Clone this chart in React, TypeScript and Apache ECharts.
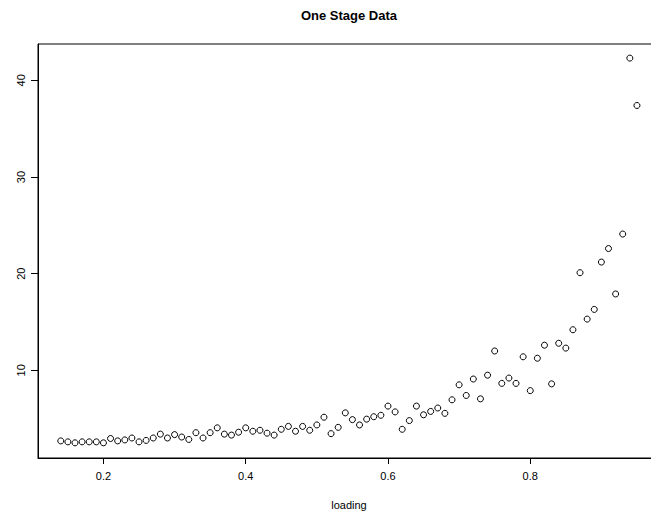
import React, { useEffect, useRef } from "react";
import * as echarts from "echarts";

const loading: number[] = [
  0.14, 0.15, 0.16, 0.17, 0.18, 0.19, 0.2, 0.21, 0.22, 0.23, 0.24, 0.25, 0.26, 0.27,
  0.28, 0.29, 0.3, 0.31, 0.32, 0.33, 0.34, 0.35, 0.36, 0.37, 0.38, 0.39, 0.4, 0.41,
  0.42, 0.43, 0.44, 0.45, 0.46, 0.47, 0.48, 0.49, 0.5, 0.51, 0.52, 0.53, 0.54, 0.55,
  0.56, 0.57, 0.58, 0.59, 0.6, 0.61, 0.62, 0.63, 0.64, 0.65, 0.66, 0.67, 0.68, 0.69,
  0.7, 0.71, 0.72, 0.73, 0.74, 0.75, 0.76, 0.77, 0.78, 0.79, 0.8, 0.81, 0.82, 0.83,
  0.84, 0.85, 0.86, 0.87, 0.88, 0.89, 0.9, 0.91, 0.92, 0.93, 0.94, 0.95,
];

const response: number[] = [
  2.7, 2.6, 2.5, 2.6, 2.6, 2.6, 2.5, 2.95, 2.7, 2.8, 3.0, 2.6, 2.75, 3.0,
  3.4, 3.0, 3.35, 3.1, 2.85, 3.55, 3.0, 3.55, 4.05, 3.4, 3.3, 3.6, 4.05, 3.7,
  3.8, 3.5, 3.3, 3.9, 4.2, 3.7, 4.2, 3.8, 4.35, 5.15, 3.45, 4.1, 5.6, 4.9,
  4.35, 4.95, 5.2, 5.35, 6.3, 5.7, 3.9, 4.8, 6.3, 5.4, 5.75, 6.1, 5.55, 6.95,
  8.5, 7.4, 9.1, 7.05, 9.5, 12.0, 8.65, 9.2, 8.65, 11.4, 7.9, 11.25, 12.6, 8.6,
  12.8, 12.3, 14.2, 20.1, 15.3, 16.3, 21.2, 22.6, 17.9, 24.1, 42.3, 37.4,
];

const xTicks: number[] = [0.2, 0.4, 0.6, 0.8];
const yTicks: number[] = [10, 20, 30, 40];
const titleText = "One Stage Data";
const xName = "loading";

const FONT = "'Liberation Sans', Arial, Helvetica, sans-serif";

export default function App() {
  const ref = useRef<HTMLDivElement>(null);

  useEffect(() => {
    if (!ref.current) return;
    const chart = echarts.init(ref.current, null, { renderer: "svg" });
    const points = loading.map((x, i) => [x, response[i]]);
    chart.setOption({
      animation: false,
      backgroundColor: "#ffffff",
      graphic: [
        {
          type: "text",
          x: 349,
          y: 15,
          style: {
            text: titleText,
            fontFamily: FONT,
            fontSize: 13,
            fontWeight: "bold",
            fill: "#000",
            textAlign: "center",
            textVerticalAlign: "middle",
          },
        },
      ],
      grid: {
        left: 38,
        top: 44,
        width: 622,
        height: 414,
        show: true,
        borderColor: "#000",
        borderWidth: 1,
        backgroundColor: "transparent",
        containLabel: false,
        outerBoundsMode: "none",
      },
      xAxis: {
        type: "value",
        min: 0.108,
        max: 0.9824,
        name: xName,
        nameLocation: "middle",
        nameGap: 41,
        nameTextStyle: { fontFamily: FONT, fontSize: 11, color: "#000" },
        axisLine: { show: true, onZero: false, lineStyle: { color: "#000", width: 1 } },
        axisTick: { show: true, length: 6, customValues: xTicks, lineStyle: { color: "#000" } },
        axisLabel: {
          customValues: xTicks,
          fontFamily: FONT,
          fontSize: 11,
          color: "#000",
          margin: 12,
          formatter: (v: number) => String(Math.round(v * 10) / 10),
        },
        splitLine: { show: false },
      },
      yAxis: {
        type: "value",
        min: 0.93,
        max: 43.76,
        axisLine: { show: true, onZero: false, lineStyle: { color: "#000", width: 1 } },
        axisTick: { show: true, length: 7, customValues: yTicks, lineStyle: { color: "#000" } },
        axisLabel: {
          customValues: yTicks,
          rotate: 90,
          fontFamily: FONT,
          fontSize: 11,
          color: "#000",
          margin: 12,
        },
        splitLine: { show: false },
      },
      series: [
        {
          type: "scatter",
          data: points,
          symbol: "circle",
          symbolSize: 6,
          itemStyle: { color: "rgba(0,0,0,0)", borderColor: "#000", borderWidth: 1, opacity: 1 },
          emphasis: { disabled: true },
        },
      ],
    });
    return () => chart.dispose();
  }, []);

  return (
    <div
      ref={ref}
      style={{ position: "fixed", left: 0, top: 0, width: 651, height: 512, background: "#fff" }}
    />
  );
}
